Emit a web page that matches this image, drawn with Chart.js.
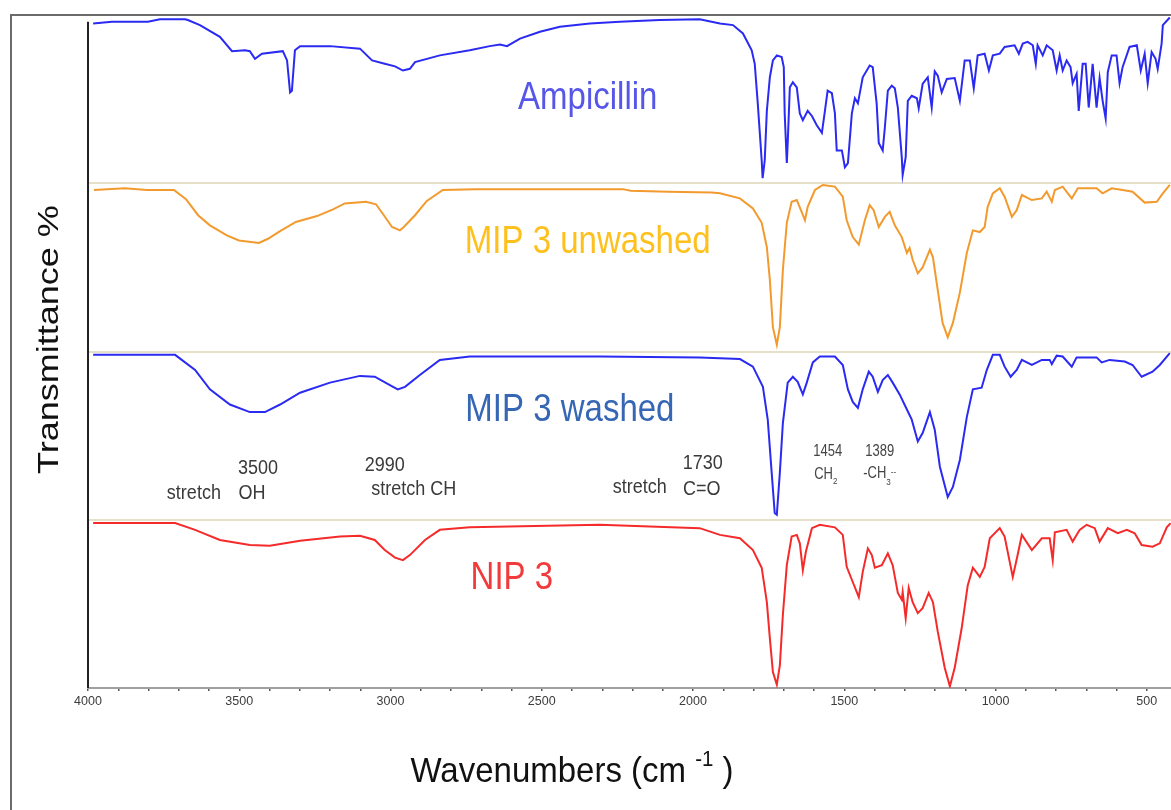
<!DOCTYPE html>
<html>
<head>
<meta charset="utf-8">
<title>FTIR spectra</title>
<script src="https://cdn.jsdelivr.net/npm/chart.js@4.4.0/dist/chart.umd.min.js"></script>
<style>
  html, body { margin: 0; padding: 0; background: #fff; overflow: hidden; }
  #wrap { position: relative; width: 1171px; height: 810px; }
  canvas { display: block; }
</style>
</head>
<body>
<div id="wrap"><canvas id="irChart" width="1171" height="810"></canvas></div>
<script>
"use strict";

// spectra: wavenumber (cm-1) and transmittance (% of the panel height)
var seriesNames = ['Ampicillin', 'MIP 3 unwashed', 'MIP 3 washed', 'NIP 3'];

var ampWn = [3983, 3921, 3802, 3762, 3679, 3670, 3630, 3564, 3524, 3481, 3465, 3448, 3425, 3356, 3342, 3332, 3326, 3316, 3299, 3200,
  3101, 3061, 3019, 2985, 2959, 2936, 2919, 2837, 2738, 2672, 2638, 2615, 2572, 2506, 2440, 2341, 2242, 2110, 1978, 1911,
  1868, 1835, 1806, 1796, 1786, 1773, 1770, 1763, 1756, 1746, 1736, 1723, 1707, 1700, 1697, 1690, 1687, 1680, 1670, 1657,
  1647, 1637, 1621, 1607, 1591, 1574, 1564, 1555, 1541, 1531, 1525, 1508, 1498, 1488, 1475, 1465, 1455, 1439, 1416, 1406,
  1393, 1386, 1373, 1366, 1356, 1343, 1333, 1323, 1310, 1307, 1297, 1290, 1277, 1260, 1254, 1241, 1224, 1211, 1201, 1191,
  1178, 1161, 1135, 1118, 1102, 1085, 1072, 1059, 1036, 1022, 1009, 986, 970, 937, 923, 910, 894, 877, 867, 861,
  844, 831, 811, 798, 788, 778, 765, 752, 745, 732, 725, 712, 702, 692, 679, 666, 656, 646, 636, 629,
  616, 600, 590, 580, 557, 533, 520, 507, 497, 484, 471, 464, 451, 447, 424];
var ampT = [95, 96, 96, 97.5, 97.5, 97, 94, 87, 78.5, 79, 78.5, 74, 77, 78.5, 73, 54, 55, 79, 81.5, 81.5,
  80, 73, 71, 69.5, 67, 68, 72, 76, 79, 81.5, 82.5, 81.5, 86, 90, 93, 95, 96, 97, 97.5, 95,
  94, 89, 79, 71, 47.5, 13.5, 3, 13.5, 43, 63, 73, 76, 75, 69, 41.5, 12, 24, 57, 60, 57,
  41.5, 37.5, 43, 40, 34.5, 30, 43, 55, 53.5, 41.5, 19.5, 19.5, 9.5, 12, 41.5, 50.5, 47.5, 63, 70, 69,
  47.5, 24, 19.5, 33, 55, 58, 56.5, 45, 15.5, 5, 15.5, 49, 52, 50.5, 44.5, 59, 63, 45, 66.5, 64,
  54, 62, 62.5, 49, 73, 73, 56.5, 76, 77, 67, 76, 77, 81, 82, 77, 83, 84, 82, 71, 82,
  76, 82, 79, 67, 76, 67, 73, 69, 59.5, 65, 43, 71, 71, 45, 71, 45, 62.5, 49, 38.5, 66,
  76, 76, 59.5, 69, 81, 82, 67, 77, 59.5, 78, 74, 68, 83, 94, 98.5];

var unwWn = [3980, 3878, 3805, 3716, 3676, 3636, 3597, 3541, 3501, 3435, 3405, 3365, 3313, 3243, 3190, 3151, 3081, 3048, 3022, 2995,
  2969, 2956, 2919, 2880, 2827, 2718, 2232, 2206, 2083, 1938, 1911, 1845, 1802, 1773, 1756, 1746, 1736, 1723, 1713, 1703,
  1690, 1674, 1657, 1640, 1630, 1621, 1597, 1571, 1531, 1505, 1492, 1472, 1452, 1432, 1416, 1403, 1386, 1366, 1350, 1333,
  1310, 1293, 1284, 1274, 1257, 1241, 1217, 1207, 1191, 1175, 1158, 1141, 1118, 1095, 1075, 1052, 1036, 1026, 1009, 986,
  970, 946, 930, 913, 880, 847, 831, 814, 804, 778, 748, 728, 666, 646, 616, 580, 547, 507, 467, 447, 424];
var unwT = [96, 97, 96, 96, 90.5, 81, 75, 69, 66, 64.5, 67, 71.5, 77, 80.5, 84.5, 88, 89, 87.5, 81, 74,
  72, 74, 81, 89.5, 96, 96.5, 96.5, 95.5, 95, 94.5, 94, 91, 85, 76.5, 62, 42.5, 14.5, 4, 14.5, 48.5,
  76.5, 89, 90, 82.5, 78, 86, 96, 99, 98, 92, 78, 68, 63.5, 78, 87, 84, 74, 80, 83, 75,
  68, 58.5, 61.5, 54.5, 46.5, 50, 60.5, 56, 36.5, 17, 8.5, 17, 35, 58.5, 72, 71, 74, 86, 94, 97,
  92, 80, 84, 93, 90, 91, 95, 89, 96, 98, 91, 97, 97, 94, 97, 96, 95, 88.5, 89, 94, 99];

var wasWn = [3983, 3712, 3646, 3597, 3531, 3465, 3415, 3365, 3299, 3200, 3101, 3052, 3002, 2976, 2952, 2903, 2837, 2738, 2308, 1978,
  1911, 1845, 1802, 1769, 1753, 1740, 1730, 1723, 1713, 1703, 1687, 1670, 1654, 1637, 1624, 1604, 1581, 1531, 1505, 1488,
  1472, 1455, 1439, 1419, 1406, 1389, 1373, 1356, 1340, 1317, 1293, 1277, 1257, 1241, 1217, 1201, 1184, 1158, 1141, 1118,
  1095, 1075, 1046, 1029, 1009, 986, 970, 950, 930, 913, 880, 847, 821, 814, 798, 778, 748, 732, 666, 649,
  623, 573, 547, 517, 481, 457, 424];
var wasT = [98, 98, 89, 77.5, 68.5, 64, 64, 68.5, 75.5, 81.5, 85.5, 85, 80, 77.5, 79, 86, 95, 97, 97, 96.5,
  96, 95.5, 91, 79, 59.5, 28, 4, 3, 28, 57.5, 81.5, 85, 82, 74.5, 81.5, 93.5, 97, 97, 92, 77.5,
  70, 66.5, 77.5, 88, 85, 76, 83, 86, 81.5, 74.5, 65.5, 59.5, 46.5, 51.5, 64, 53.5, 31.5, 13.5, 19.5, 35.5,
  61, 77.5, 78.5, 89, 98, 98, 91, 85, 89, 95, 92, 95, 95, 92.5, 97.5, 97, 91, 96.5, 96.5, 93.5,
  95, 94, 92, 85, 88, 92, 99];

var nipWn = [3983, 3712, 3646, 3564, 3465, 3399, 3299, 3167, 3101, 3052, 3019, 2985, 2959, 2936, 2886, 2837, 2738, 2308, 1978, 1911,
  1845, 1802, 1773, 1756, 1746, 1736, 1723, 1713, 1703, 1690, 1674, 1657, 1647, 1637, 1627, 1607, 1581, 1531, 1505, 1492,
  1472, 1452, 1439, 1422, 1409, 1399, 1376, 1356, 1340, 1323, 1310, 1307, 1297, 1287, 1274, 1257, 1241, 1221, 1207, 1191,
  1168, 1151, 1135, 1112, 1092, 1075, 1052, 1036, 1019, 986, 970, 943, 927, 913, 880, 847, 821, 811, 804, 765,
  745, 722, 699, 672, 656, 629, 596, 566, 540, 517, 481, 457, 434, 421];
var nipT = [98, 98, 94, 88, 85, 84.5, 87.5, 90, 90.5, 88, 82, 77.5, 76, 79, 88, 94, 95.5, 97, 95, 91,
  89, 82, 71.5, 51, 29.5, 9.5, 2, 13.5, 43.5, 73, 90, 91, 86, 70, 81, 95, 97, 95.5, 91, 72,
  63, 54, 69, 83, 79, 71.5, 73, 80, 73, 56.5, 52.5, 57, 41.5, 59.5, 51, 44.5, 47.5, 56.5, 51, 33.5,
  12, 1, 12, 35.5, 61, 71.5, 66, 72, 89, 95, 90, 66, 79, 91, 82, 89, 89, 76, 92.5, 94,
  87, 94, 97, 95, 87, 95, 92, 94, 92, 85, 84, 86, 95.5, 98];

var tickLabels = [4000, 3500, 3000, 2500, 2000, 1500, 1000, 500];
var peakWn = [3500, 2990, 1730, 1454, 1389];

var FONT = '"Liberation Sans", Arial, Helvetica, sans-serif';

// each spectrum sits in its own band of 100 units, NIP at the bottom
function stack(wn, t, band) {
  return wn.map(function (w, i) { return { x: w, y: band * 100 + t[i] }; });
}

function runsText(ctx, runs, cx, cy, size, color, sy) {
  ctx.save();
  ctx.translate(cx, cy);
  ctx.scale(1, sy);
  ctx.fillStyle = color;
  ctx.textBaseline = 'middle';
  ctx.textAlign = 'left';
  var total = 0;
  runs.forEach(function (r) {
    r.size = r.shift ? size * 0.62 : size;
    ctx.font = r.size + 'px ' + FONT;
    r.w = ctx.measureText(r.t).width;
    total += r.w;
  });
  var x = -total / 2;
  runs.forEach(function (r) {
    ctx.font = r.size + 'px ' + FONT;
    ctx.fillText(r.t, x, (r.shift || 0) * size);
    x += r.w;
  });
  ctx.restore();
}

var decorations = {
  id: 'decorations',
  afterDraw: function (chart) {
    var ctx = chart.ctx, xs = chart.scales.x, ys = chart.scales.y, area = chart.chartArea;

    // outer frame
    ctx.save();
    ctx.strokeStyle = '#6b6b6b';
    ctx.lineWidth = 2;
    ctx.beginPath();
    ctx.moveTo(11, 812);
    ctx.lineTo(11, 15);
    ctx.lineTo(1175, 15);
    ctx.stroke();

    // left axis line
    ctx.strokeStyle = '#222';
    ctx.lineWidth = 2;
    ctx.beginPath();
    ctx.moveTo(area.left, ys.getPixelForValue(396));
    ctx.lineTo(area.left, area.bottom);
    ctx.stroke();
    ctx.restore();

    // sample names
    var nameColors = ['#5656e8', '#fdc01c', '#3567b4', '#f23a3a'];
    var namePos = [[2348, 350.7], [2348, 265], [2407, 165.2], [2599, 65.4]];
    seriesNames.forEach(function (n, i) {
      runsText(ctx, [{ t: n }], xs.getPixelForValue(namePos[i][0]), ys.getPixelForValue(namePos[i][1]), 33, nameColors[i], 1.18);
    });

    // band assignments
    var c = '#3a3a3a';
    runsText(ctx, [{ t: String(peakWn[0]) }], xs.getPixelForValue(3438), ys.getPixelForValue(130.8), 18, c, 1.15);
    runsText(ctx, [{ t: 'stretch' }], xs.getPixelForValue(3650), ys.getPixelForValue(115.9), 18, c, 1.15);
    runsText(ctx, [{ t: 'OH' }], xs.getPixelForValue(3458), ys.getPixelForValue(115.9), 18, c, 1.15);
    runsText(ctx, [{ t: String(peakWn[1]) }], xs.getPixelForValue(3019), ys.getPixelForValue(132.5), 18, c, 1.15);
    runsText(ctx, [{ t: 'stretch CH' }], xs.getPixelForValue(2923), ys.getPixelForValue(118.3), 18, c, 1.15);
    runsText(ctx, [{ t: String(peakWn[2]) }], xs.getPixelForValue(1968), ys.getPixelForValue(133.7), 18, c, 1.15);
    runsText(ctx, [{ t: 'stretch' }], xs.getPixelForValue(2176), ys.getPixelForValue(119.5), 18, c, 1.15);
    runsText(ctx, [{ t: 'C=O' }], xs.getPixelForValue(1971), ys.getPixelForValue(118.3), 18, c, 1.15);
    runsText(ctx, [{ t: String(peakWn[3]) }], xs.getPixelForValue(1555), ys.getPixelForValue(140.3), 13, '#444', 1.2);
    runsText(ctx, [{ t: 'CH' }, { t: '2', shift: 0.4 }], xs.getPixelForValue(1561), ys.getPixelForValue(126.6), 13, '#444', 1.2);
    runsText(ctx, [{ t: String(peakWn[4]) }], xs.getPixelForValue(1383), ys.getPixelForValue(140.3), 13, '#444', 1.2);
    runsText(ctx, [{ t: '-CH' }, { t: '3', shift: 0.55 }, { t: '--', shift: -0.1 }], xs.getPixelForValue(1383), ys.getPixelForValue(127.2), 13, '#444', 1.2);

    // axis titles
    runsText(ctx, [{ t: 'Wavenumbers (cm ' }, { t: '-1', shift: -0.35 }, { t: ' )' }],
      area.left + 484, area.bottom + 84, 33, '#111', 1.05);

    ctx.save();
    ctx.translate(area.left - 38, (area.top + area.bottom) / 2 - 12);
    ctx.rotate(-Math.PI / 2);
    ctx.scale(1.2, 1);
    ctx.font = '30px ' + FONT;
    ctx.fillStyle = '#111';
    ctx.textAlign = 'center';
    ctx.textBaseline = 'middle';
    ctx.fillText('Transmittance %', 0, 0);
    ctx.restore();
  }
};

var ctx = document.getElementById('irChart');
var irChart = new Chart(ctx, {
  type: 'line',
  data: {
    datasets: [
      { label: seriesNames[0], data: stack(ampWn, ampT, 3), borderColor: '#2a2af2' },
      { label: seriesNames[1], data: stack(unwWn, unwT, 2), borderColor: '#f29a2e' },
      { label: seriesNames[2], data: stack(wasWn, wasT, 1), borderColor: '#2a2af2' },
      { label: seriesNames[3], data: stack(nipWn, nipT, 0), borderColor: '#f52a2a' }
    ]
  },
  options: {
    responsive: false,
    animation: false,
    devicePixelRatio: 1,
    layout: { padding: { left: 88, top: 15, right: 0, bottom: 0 } },
    elements: {
      line: { borderWidth: 2, tension: 0, fill: false },
      point: { radius: 0 }
    },
    plugins: { legend: { display: false }, tooltip: { enabled: false } },
    scales: {
      x: {
        type: 'linear',
        reverse: true,
        min: 420,
        max: 4000,
        afterBuildTicks: function (scale) {
          var t = [];
          for (var v = 4000; v >= 500; v -= 100) t.push({ value: v });
          scale.ticks = t;
        },
        afterFit: function (scale) { scale.height = 122; },
        border: { display: true, color: '#a0a0a0', width: 2 },
        grid: { drawOnChartArea: false, drawTicks: true, tickLength: 3, color: '#555', lineWidth: 1.5 },
        ticks: {
          autoSkip: false,
          maxRotation: 0,
          padding: 3,
          color: '#3c3c3c',
          font: { family: FONT, size: 12.5 },
          callback: function (v) { return tickLabels.indexOf(v) >= 0 ? String(v) : ''; }
        }
      },
      y: {
        type: 'linear',
        min: 0,
        max: 400,
        afterFit: function (scale) { scale.width = 0; },
        afterBuildTicks: function (scale) {
          scale.ticks = [{ value: 100 }, { value: 200 }, { value: 300 }];
        },
        border: { display: false },
        grid: { drawTicks: false, color: '#e6e0c8', lineWidth: 2 },
        ticks: { display: false }
      }
    }
  },
  plugins: [decorations]
});
</script>
</body>
</html>
